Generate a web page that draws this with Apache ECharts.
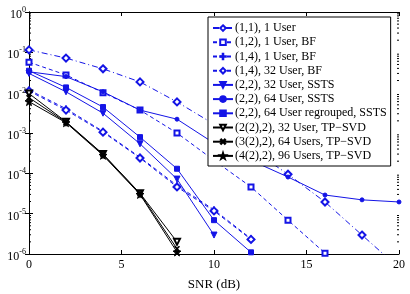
<!DOCTYPE html>
<html><head><meta charset="utf-8">
<script src="https://cdn.jsdelivr.net/npm/echarts@6/dist/echarts.min.js"></script>
<style>html,body{margin:0;padding:0;background:#fff}#c{width:410px;height:294px}</style>
</head><body><div id="c"></div>
<script>
const snr = [0, 2, 4, 6, 8, 10, 12, 14, 16, 18, 20];
const seriesNames = [
  '(1,1), 1 User',
  '(1,2), 1 User, BF',
  '(1,4), 1 User, BF',
  '(1,4), 32 User, BF',
  '(2,2), 32 User, SSTS',
  '(2,2), 64 User, SSTS',
  '(2,2), 64 User regrouped, SSTS',
  '(2(2),2), 32 User, TP\u2212SVD',
  '(3(2),2), 64 Users, TP\u2212SVD',
  '(4(2),2), 96 Users, TP\u2212SVD'
];
const ber11 = [1.15e-1, 7.2e-2, 3.9e-2, 1.85e-2, 5.9e-3, 1.65e-3, 4.0e-4, 9.5e-5, 1.95e-5, 2.95e-6, 4.5e-7];
const ber12bf = [5.7e-2, 2.75e-2, 1.0e-2, 3.7e-3, 1.0e-3, 2.1e-4, 4.6e-5, 6.9e-6, 1.05e-6];
const ber14bf = [1.17e-2, 4.0e-3, 1.1e-3, 2.5e-4, 5.0e-5, 1.25e-5, 2.4e-6];
const ber14u32 = [1.1e-2, 3.7e-3, 1.05e-3, 2.4e-4, 4.6e-5, 1.17e-5, 2.3e-6];
const ber22u32 = [3.0e-2, 1.05e-2, 3.1e-3, 5.4e-4, 7.2e-5, 2.95e-6];
const ber22u64 = [3.3e-2, 2.5e-2, 1.05e-2, 3.7e-3, 2.2e-3, 5.6e-4, 2.1e-4, 8.1e-5, 2.9e-5, 2.2e-5, 1.95e-5];
const ber22reg = [3.5e-2, 1.35e-2, 4.4e-3, 7.9e-4, 1.3e-4, 6.9e-6, 1.1e-6];
const berTP32 = [9.5e-3, 1.9e-3, 3.0e-4, 3.2e-5, 2.0e-6];
const berTP64 = [7.5e-3, 1.85e-3, 2.95e-4, 3.15e-5, 1.35e-6];
const berTP96 = [6.0e-3, 1.8e-3, 2.8e-4, 3.0e-5, 1.12e-6];
const xTicks = [0, 5, 10, 15, 20];

const blue = '#1414e6';
const black = '#000000';
const plus = 'path://M4.5,0H5.5V4.5H10V5.5H5.5V10H4.5V5.5H0V4.5H4.5Z';
const star = 'path://M5,0L6.2,3.6L10,3.6L6.9,5.9L8.1,9.5L5,7.3L1.9,9.5L3.1,5.9L0,3.6L3.8,3.6Z';

function pairs(vals) { return vals.map((v, i) => [snr[i], v]); }
function mk(name, vals, color, lineType, symbol, size, rotate) {
  return {
    name: name, type: 'line', data: pairs(vals), xAxisIndex: 0, yAxisIndex: 0,
    symbol: symbol, symbolSize: size, symbolRotate: rotate || 0, showAllSymbol: true,
    clip: true, animation: false,
    lineStyle: { color: color, width: 1, type: lineType },
    itemStyle: { color: color, borderColor: color, borderWidth: 1 },
    emphasis: { disabled: true }
  };
}
const dashDot = [6, 3, 1, 3];
const dashed = [4, 3];
const series = [
  mk(seriesNames[0], ber11, blue, dashDot, 'emptyDiamond', 7),
  mk(seriesNames[1], ber12bf, blue, dashed, 'emptyRect', 5),
  mk(seriesNames[2], ber14bf, blue, dashed, plus, 6),
  mk(seriesNames[3], ber14u32, blue, dashed, 'emptyDiamond', 7),
  mk(seriesNames[4], ber22u32, blue, 'solid', 'triangle', 6, 180),
  mk(seriesNames[5], ber22u64, blue, 'solid', 'circle', 4),
  mk(seriesNames[6], ber22reg, blue, 'solid', 'rect', 5),
  mk(seriesNames[7], berTP32, black, 'solid', 'emptyTriangle', 6, 180),
  mk(seriesNames[8], berTP64, black, 'solid', plus, 6, 45),
  mk(seriesNames[9], berTP96, black, 'solid', star, 8)
];

// minor ticks of log axis (decoration), positioned through the axis scale
const minorVals = [];
for (let e = -6; e < 0; e++) for (let m = 2; m <= 9; m++) minorVals.push(m * Math.pow(10, e));
series.push({
  type: 'custom', silent: true, animation: false, xAxisIndex: 0, yAxisIndex: 0,
  data: minorVals.map(v => [0, v]),
  renderItem: function (params, api) {
    const v = api.value(1);
    const l = api.coord([0, v]);
    const r = api.coord([20, v]);
    return { type: 'group', children: [
      { type: 'line', shape: { x1: l[0], y1: l[1], x2: l[0] + 2, y2: l[1] }, style: { stroke: '#000', lineWidth: 1 } },
      { type: 'line', shape: { x1: r[0], y1: r[1], x2: r[0] - 2, y2: r[1] }, style: { stroke: '#000', lineWidth: 1 } }
    ]};
  }
});

const serif = 'Liberation Serif';
const chart = echarts.init(document.getElementById('c'), null, { renderer: 'canvas' });
chart.setOption({
  animation: false,
  backgroundColor: '#fff',
  textStyle: { fontFamily: serif },
  grid: { left: 29, top: 12, right: 11, bottom: 40, containLabel: false, outerBoundsMode: 'none' },
  xAxis: [{
    type: 'value', min: 0, max: 20, interval: 5, position: 'bottom',
    name: 'SNR (dB)', nameLocation: 'middle', nameGap: 24,
    nameTextStyle: { fontFamily: serif, fontSize: 13, color: '#000' },
    axisLine: { lineStyle: { color: '#000', width: 1 } },
    axisTick: { inside: true, length: 4, lineStyle: { color: '#000' } },
    axisLabel: { fontFamily: serif, fontSize: 12, color: '#000', margin: 5 },
    splitLine: { show: false }
  }, {
    type: 'value', min: 0, max: 20, interval: 5, position: 'top',
    axisLine: { lineStyle: { color: '#000', width: 1 } },
    axisTick: { inside: true, length: 4, lineStyle: { color: '#000' } },
    axisLabel: { show: false }, splitLine: { show: false }
  }],
  yAxis: [{
    type: 'log', logBase: 10, min: 1e-6, max: 1, position: 'left',
    name: 'BER', nameLocation: 'middle', nameGap: 17, nameRotate: 90,
    nameTextStyle: { fontFamily: serif, fontSize: 13, color: '#000' },
    axisLine: { lineStyle: { color: '#000', width: 1 } },
    axisTick: { inside: true, length: 4, lineStyle: { color: '#000' } },
    axisLabel: {
      margin: 3, color: '#000',
      formatter: function (v) { return '{b|10}{s|' + Math.round(Math.log10(v)) + '}'; },
      rich: {
        b: { fontFamily: serif, fontSize: 12, color: '#000', padding: [6, 0, 0, 0] },
        s: { fontFamily: serif, fontSize: 8, color: '#000', padding: [0, 0, 4, 0] }
      }
    },
    splitLine: { show: false }
  }, {
    type: 'log', logBase: 10, min: 1e-6, max: 1, position: 'right',
    axisLine: { lineStyle: { color: '#000', width: 1 } },
    axisTick: { inside: true, length: 4, lineStyle: { color: '#000' } },
    axisLabel: { show: false }, splitLine: { show: false }
  }],
  legend: {
    data: seriesNames, orient: 'vertical', left: 208, top: 17,
    backgroundColor: '#fff', borderColor: '#000', borderWidth: 1,
    padding: [4, 4, 3, 4], itemGap: 0, itemWidth: 20, itemHeight: 7,
    textStyle: { fontFamily: serif, fontSize: 12, color: '#000', lineHeight: 14.2, padding: [0, 0, 0, -3] },
    selectedMode: false
  },
  series: series
});
</script>
</body></html>
